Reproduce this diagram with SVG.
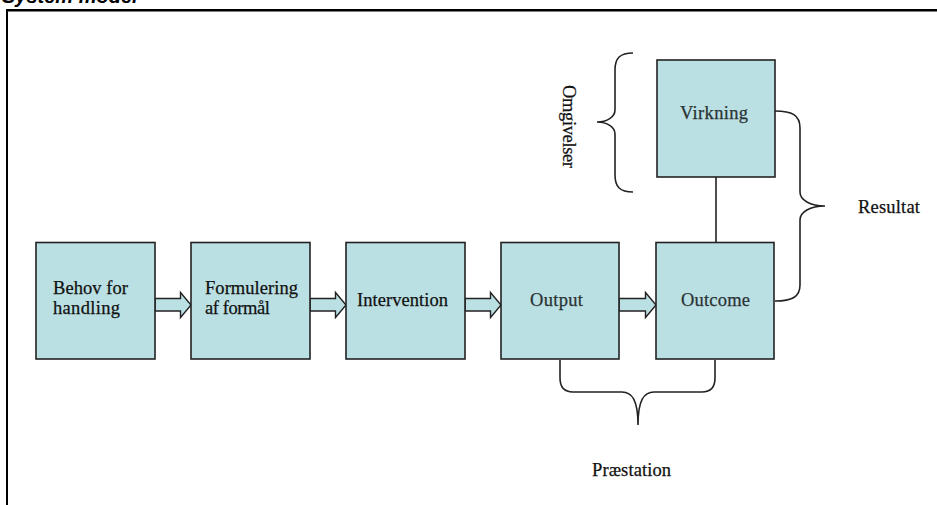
<svg xmlns="http://www.w3.org/2000/svg" width="937" height="505" viewBox="0 0 937 505">
<style>
.box{fill:#BBE0E3;stroke:#222;stroke-width:1.6}
.lbl{font-family:"Liberation Serif","Times New Roman",serif;font-size:18.5px;fill:#111;stroke:#111;stroke-width:0.25}
.lbl2{font-family:"Liberation Serif","Times New Roman",serif;font-size:18.5px;fill:#2a3333;stroke:#2a3333;stroke-width:0.25}
.arr{fill:#BBE0E3;stroke:#222;stroke-width:1.4;stroke-linejoin:miter}
.br{fill:none;stroke:#222;stroke-width:1.6}
</style>
<rect width="937" height="505" fill="#fff"/>
<text x="2" y="3" font-family="Liberation Sans, Arial, sans-serif" font-size="20" font-weight="bold" font-style="italic" fill="#000">System model</text>
<rect x="6" y="9" width="931" height="2.5" fill="#000"/>
<rect x="6" y="9" width="2" height="496" fill="#000"/>

<g id="connectors">
  <path class="arr" d="M155,298.5 H180.5 V292.5 L191,305 L180.5,317.5 V311 H155 Z"/>
  <path class="arr" d="M310,298.5 H335.5 V292.5 L346,305 L335.5,317.5 V311 H310 Z"/>
  <path class="arr" d="M465,298.5 H490.5 V292.5 L501,305 L490.5,317.5 V311 H465 Z"/>
  <path class="arr" d="M619,298.5 H645.5 V292.5 L656,305 L645.5,317.5 V311 H619 Z"/>
  <line x1="716" y1="177" x2="716" y2="242" stroke="#222" stroke-width="1.6"/>
  <path class="br" d="M775,111 C792,111 800,115 800,128 L800,192 C800,200 810,206 825,206 C810,206 800,212 800,220 L800,285 C800,297 792,301 775,301"/>
  <path class="br" d="M633,53 C620,53 615,58 615,70 L615,110 C615,117 607,122 597,122 C607,122 615,127 615,134 L615,175 C615,187 620,192 633,192"/>
  <path class="br" d="M560,360 L560,378 C560,387 564,392 573,392 L622,392 C632,392 638,400 638,425 C638,400 644,392 654,392 L702,392 C711,392 715,387 715,378 L715,360"/>
</g>

<g id="behov">
  <rect class="box" x="36" y="242.5" width="119" height="116.5"/>
  <text class="lbl" x="53" y="294" textLength="75" lengthAdjust="spacing">Behov for</text>
  <text class="lbl" x="53" y="314" textLength="67" lengthAdjust="spacing">handling</text>
</g>
<g id="formulering">
  <rect class="box" x="191" y="242.5" width="119" height="116.5"/>
  <text class="lbl" x="205" y="294" textLength="93" lengthAdjust="spacing">Formulering</text>
  <text class="lbl" x="205" y="314" textLength="65" lengthAdjust="spacing">af formål</text>
</g>
<g id="intervention">
  <rect class="box" x="346" y="242.5" width="119" height="116.5"/>
  <text class="lbl" x="357" y="306" textLength="91" lengthAdjust="spacing">Intervention</text>
</g>
<g id="output">
  <rect class="box" x="501" y="242.5" width="118" height="116.5"/>
  <text class="lbl2" x="530" y="306" textLength="53" lengthAdjust="spacing">Output</text>
</g>
<g id="outcome">
  <rect class="box" x="656" y="242.5" width="118" height="116.5"/>
  <text class="lbl2" x="681" y="306" textLength="69" lengthAdjust="spacing">Outcome</text>
</g>
<g id="virkning">
  <rect class="box" x="657" y="60" width="118" height="117"/>
  <text class="lbl2" x="680" y="119" textLength="68" lengthAdjust="spacing">Virkning</text>
</g>
<g id="omgivelser">
  <text class="lbl" transform="translate(563,85) rotate(90)" x="0" y="0" textLength="83" lengthAdjust="spacing">Omgivelser</text>
</g>
<g id="resultat">
  <text class="lbl" x="858" y="213" textLength="62" lengthAdjust="spacing">Resultat</text>
</g>
<g id="praestation">
  <text class="lbl" x="592" y="476" textLength="79" lengthAdjust="spacing">Præstation</text>
</g>
</svg>
